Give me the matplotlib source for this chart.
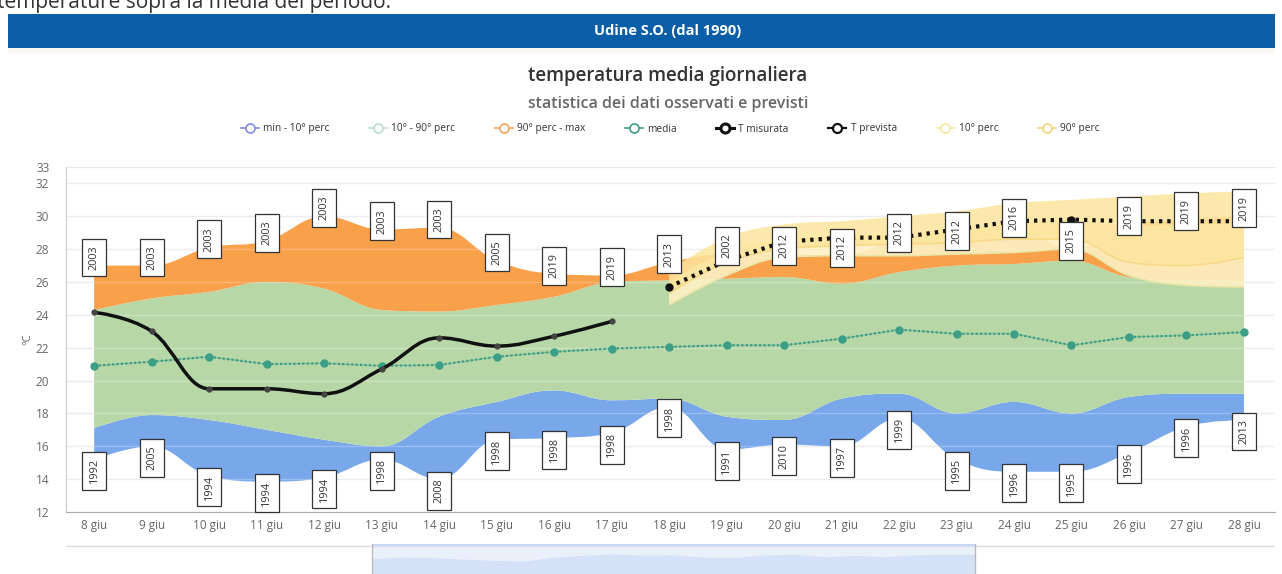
import numpy as np
import matplotlib
matplotlib.use('Agg')
from matplotlib import pyplot as plt
from matplotlib.path import Path
from matplotlib.patches import PathPatch, Rectangle
from matplotlib.lines import Line2D

plt.rcParams['font.family'] = ['Open Sans', 'DejaVu Sans']

# data (index 0 = 8 giu)
days = ['%d giu' % d for d in range(8, 29)]
t_min = [15.2, 16.0, 14.2, 13.85, 14.1, 15.2, 14.0, 16.4, 16.5, 16.8, 18.4,
         15.8, 16.1, 16.0, 17.7, 15.2, 14.45, 14.45, 15.6, 17.2, 17.6]
p10 = [17.1, 17.9, 17.6, 17.0, 16.4, 16.0, 17.8, 18.7, 19.4, 18.8, 18.9,
       17.8, 17.6, 18.9, 19.2, 18.0, 18.7, 18.0, 19.0, 19.2, 19.2]
p90 = [24.3, 25.0, 25.4, 26.0, 25.6, 24.3, 24.2, 24.6, 25.1, 26.0, 26.1,
       26.2, 26.3, 25.9, 26.6, 27.0, 27.1, 27.3, 26.3, 26.1, 26.1]
t_max = [27.0, 27.0, 28.1, 28.5, 30.0, 29.2, 29.3, 27.3, 26.5, 26.4, 27.2,
         27.7, 27.7, 27.6, 28.5, 28.6, 29.4, 28.0, 29.5, 29.8, 30.0]
media = [20.9, 21.15, 21.45, 21.0, 21.05, 20.9, 20.95, 21.45, 21.75, 21.95, 22.05,
         22.15, 22.15, 22.55, 23.1, 22.85, 22.85, 22.15, 22.65, 22.75, 22.95]
year_max = [2003, 2003, 2003, 2003, 2003, 2003, 2003, 2005, 2019, 2019, 2013,
            2002, 2012, 2012, 2012, 2012, 2016, 2015, 2019, 2019, 2019]
year_min = [1992, 2005, 1994, 1994, 1994, 1998, 2008, 1998, 1998, 1998, 1998,
            1991, 2010, 1997, 1999, 1995, 1996, 1995, 1996, 1996, 2013]

# measured (8-17 giu) and forecast (18-28 giu)
t_mis = [24.15, 23.0, 19.5, 19.5, 19.2, 20.7, 22.6, 22.1, 22.7, 23.6]
t_prev = [25.7, 27.3, 28.45, 28.7, 28.7, 29.2, 29.7, 29.8, 29.7, 29.7, 29.7]
fc10_lo = [24.6, 26.4, 27.5, 27.6, 27.6, 27.7, 27.8, 28.0, 26.4, 25.8, 25.7]
fc10_hi = [26.0, 27.9, 28.6, 28.8, 29.0, 29.2, 29.6, 29.7, 29.4, 29.5, 29.6]
fc90_lo = [25.3, 27.2, 28.0, 28.2, 28.3, 28.4, 28.6, 28.6, 27.2, 27.0, 27.5]
fc90_hi = [26.7, 28.7, 29.5, 29.7, 30.0, 30.3, 30.8, 31.0, 31.2, 31.4, 31.5]


def controls(x, y):
    # highcharts style spline control points
    n = len(x)
    left = [(x[i], y[i]) for i in range(n)]
    right = [(x[i], y[i]) for i in range(n)]
    s = 1.5
    d = s + 1
    for i in range(1, n - 1):
        lx = (s * x[i] + x[i - 1]) / d
        ly = (s * y[i] + y[i - 1]) / d
        rx = (s * x[i] + x[i + 1]) / d
        ry = (s * y[i] + y[i + 1]) / d
        corr = (ry - ly) * (rx - x[i]) / (rx - lx) + y[i] - ry
        ly += corr
        ry += corr
        if ly > y[i - 1] and ly > y[i]:
            ly = max(y[i - 1], y[i]); ry = 2 * y[i] - ly
        elif ly < y[i - 1] and ly < y[i]:
            ly = min(y[i - 1], y[i]); ry = 2 * y[i] - ly
        if ry > y[i + 1] and ry > y[i]:
            ry = max(y[i + 1], y[i]); ly = 2 * y[i] - ry
        elif ry < y[i + 1] and ry < y[i]:
            ry = min(y[i + 1], y[i]); ly = 2 * y[i] - ry
        left[i] = (lx, ly)
        right[i] = (rx, ry)
    return left, right


def spline_verts(x, y):
    left, right = controls(x, y)
    verts = [(x[0], y[0])]
    codes = [Path.MOVETO]
    for i in range(1, len(x)):
        verts += [right[i - 1], left[i], (x[i], y[i])]
        codes += [Path.CURVE4] * 3
    return verts, codes


def band(ax, x, lo, hi, **kw):
    x = list(x)
    v1, c1 = spline_verts(x, list(hi))
    v2, c2 = spline_verts(x[::-1], list(lo)[::-1])
    c2[0] = Path.LINETO
    verts = v1 + v2 + [v1[0]]
    codes = c1 + c2 + [Path.CLOSEPOLY]
    ax.add_patch(PathPatch(Path(verts, codes), **kw))


def spline_line(ax, x, y, **kw):
    v, c = spline_verts(list(x), list(y))
    ax.add_patch(PathPatch(Path(v, c), fill=False, **kw))


W, H = 1282, 574
fig = plt.figure(figsize=(W / 100, H / 100), dpi=100)

# header
fig.text(-0.002, 1 - 8 / H, 'temperature sopra la media del periodo.', fontsize=15,
         color='#333333', va='baseline', ha='left')
fig.add_artist(Rectangle((8 / W, 1 - 48 / H), 1267 / W, 34 / H, transform=fig.transFigure,
                         color='#0a5ea8', lw=0))
fig.add_artist(Rectangle((8 / W, 1 - 53 / H), 1267 / W, 5 / H, transform=fig.transFigure,
                         color='#fbf8f1', lw=0))
fig.text(668 / W, 1 - 31 / H, 'Udine S.O. (dal 1990)', color='white', fontsize=10.5,
         fontweight='bold', ha='center', va='center')
fig.text(668 / W, 1 - 76 / H, 'temperatura media giornaliera', color='#333333', fontsize=13.5,
         fontweight='semibold', ha='center', va='center')
fig.text(668 / W, 1 - 104 / H, 'statistica dei dati osservati e previsti', color='#666666',
         fontsize=11.5, fontweight='semibold', ha='center', va='center')

ax = fig.add_axes([66 / W, 1 - 512 / H, 1209 / W, 345 / H])
x = np.arange(len(days))
xf = x[10:]

ax.set_xlim(-0.49, 20.54)
ax.set_ylim(12, 33)
for v in list(range(12, 33, 2)) + [33]:
    ax.axhline(v, color='#e6e6e6', lw=1, zorder=0)

band(ax, x, t_min, p10, facecolor='#78a7ea', lw=0, zorder=1)
band(ax, x, p10, p90, facecolor='#b8d7a7', lw=0, zorder=1)
band(ax, x, p90, t_max, facecolor='#f9a04b', lw=0, zorder=1)
for v in range(14, 33, 2):
    ax.axhline(v, color='white', lw=1, alpha=0.25, zorder=1.5)

band(ax, xf, fc10_lo, fc10_hi, facecolor='#fdf1c4', alpha=0.9, lw=0, zorder=2)
band(ax, xf, fc90_lo, fc90_hi, facecolor='#fde59c', alpha=0.85, lw=0, zorder=2)
spline_line(ax, xf, fc10_lo, edgecolor='#e9e6a8', lw=1.2, zorder=2.2)
spline_line(ax, xf, fc90_lo, edgecolor='#f7d98a', lw=1.2, zorder=2.2)

ax.plot(x, media, color='#3b9e86', lw=1.6, ls=(0, (1, 1)), marker='o', markersize=5,
        zorder=4)
ax.plot(x, media, color='#3b9e86', lw=0.6, alpha=0.6, zorder=4)

spline_line(ax, x[:10], t_mis, edgecolor='#111111', lw=2.5, zorder=5)
ax.plot(x[:10], t_mis, ls='none', marker='o', markersize=3.5, color='#444444', zorder=5)
ax.plot(xf, t_prev, color='#111111', lw=3, ls=(0, (0.8, 1.2)), marker='o', markersize=5,
        zorder=5)

box = dict(boxstyle='square,pad=0.6', fc='white', ec='#333333', lw=0.9)
for i in range(len(days)):
    ax.text(x[i], t_max[i] + 0.5, str(year_max[i]), rotation=90, ha='center', va='center',
            fontsize=7.8, color='#333333', bbox=box, zorder=6)
    ax.text(x[i], t_min[i] - 0.7, str(year_min[i]), rotation=90, ha='center', va='center',
            fontsize=7.8, color='#333333', bbox=box, zorder=6)

ax.set_xticks(x)
ax.set_xticklabels(days)
ax.set_yticks(list(range(12, 33, 2)) + [33])
ax.tick_params(axis='both', length=0, labelsize=8.5, colors='#666666')
ax.tick_params(axis='y', pad=12)
ax.tick_params(axis='x', pad=5)
for sp in ['top', 'right']:
    ax.spines[sp].set_visible(False)
ax.spines['left'].set_color('#cccccc')
ax.spines['bottom'].set_color('#aaaaaa')
ax.set_ylabel('°C', color='#666666', fontsize=8, labelpad=2)

# legend
items = [('min - 10° perc', '#7f8be6', 1.2), ('10° - 90° perc', '#b9ddd2', 1.2),
         ('90° perc - max', '#f7a35c', 1.2), ('media', '#3b9e86', 1.2),
         ('T misurata', '#111111', 2.2), ('T prevista', '#111111', 1.6),
         ('10° perc', '#f6e7a1', 1.2), ('90° perc', '#f2d47a', 1.2)]
handles = [Line2D([], [], color=c, lw=w, marker='o', markersize=6.5, markerfacecolor='white',
                  markeredgecolor=c, markeredgewidth=w) for _, c, w in items]
fig.legend(handles, [t for t, _, _ in items], loc='center', bbox_to_anchor=(670 / W, 1 - 129 / H),
           ncol=8, frameon=False, fontsize=7.3, handlelength=1.8, handletextpad=0.4,
           columnspacing=3.9, labelcolor='#333333')

# navigator
nav = fig.add_axes([66 / W, 0, 1209 / W, 30 / H])
k = 20 / (975 - 372)
nav.set_xlim(-(372 - 66) * k, 20 + (1275 - 975) * k)
nav.set_ylim(10, 24)
nav.fill_between(x, p10, 10, color='#c9d9f4', lw=0, zorder=1)
nav.axvspan(0, 20, color='#dce7f8', alpha=0.6, lw=0, zorder=2)
nav.axvspan(0, 20, ymin=0.93, ymax=1, color='#c5d5ef', lw=0, zorder=3)
nav.axhline(23.0, color='#dddddd', lw=1, zorder=0)
for xv in (0, 20):
    nav.axvline(xv, color='#bbbbbb', lw=1, zorder=4)
nav.axis('off')

fig.savefig('out.png', dpi=100)
